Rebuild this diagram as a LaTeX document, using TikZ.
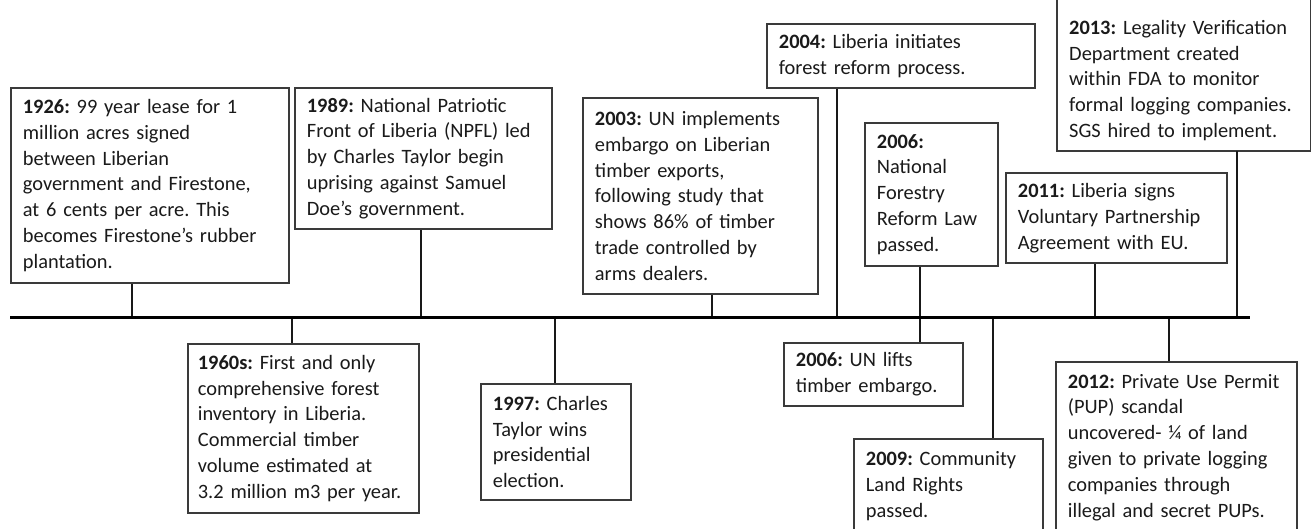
\documentclass[tikz,border=0pt]{standalone}
\usepackage{fontspec}
\setmainfont{Carlito}
\frenchspacing
\definecolor{boxline}{HTML}{3A3A3A}
\definecolor{txt}{HTML}{1A1A1A}
\tikzset{
  evbox/.style={draw=boxline, line width=1.8pt, fill=white, anchor=north west,
    align=left, inner xsep=12pt, inner ysep=0pt, text=txt,
    font=\fontsize{20.4}{25.8}\selectfont},
  evtext/.style={anchor=south west, align=left, inner xsep=12pt, inner ysep=10pt,
    text=txt, font=\fontsize{20.4}{25.8}\selectfont},
  tick/.style={line width=2.4pt, draw=black!90},
  axis/.style={line width=3pt, draw=black}
}
\begin{document}
\begin{tikzpicture}[x=1pt,y=-1pt]
\useasboundingbox (0,0) rectangle (1311,529);
\clip (0,0) rectangle (1311,529);
\fill[white] (0,0) rectangle (1311,529);

% timeline
\coordinate (L) at (10,317);
\coordinate (R) at (1250,317);

% tick positions
\coordinate (t1926) at (132,317);
\coordinate (t1989) at (421,317);
\coordinate (t2003) at (712,317);
\coordinate (t2004) at (837,317);
\coordinate (t2006n) at (920,317);
\coordinate (t2011) at (1095,317);
\coordinate (t2013) at (1237,317);
\coordinate (t1960) at (292,317);
\coordinate (t1997) at (555,317);
\coordinate (t2006u) at (920,317);
\coordinate (t2009) at (993,317);
\coordinate (t2012) at (1169,317);

% boxes above
\node[evbox, minimum width=278pt, text width=254pt, minimum height=195pt] (b1926) at (10,87)
 {\textbf{1926:} 99 year lease for 1\\million acres signed\\between Liberian\\government and Firestone,\\at 6 cents per acre. This\\becomes Firestone’s rubber\\plantation.};
\node[evbox, minimum width=257pt, text width=233pt, minimum height=141pt] (b1989) at (294,87)
 {\textbf{1989:} National Patriotic\\Front of Liberia (NPFL) led\\by Charles Taylor begin\\uprising against Samuel\\Doe’s government.};
\node[evbox, minimum width=235pt, text width=211pt, minimum height=196pt] (b2003) at (582,97)
 {\textbf{2003:} UN implements\\embargo on Liberian\\timber exports,\\following study that\\shows 86\% of timber\\trade controlled by\\arms dealers.};
\node[evbox, minimum width=268pt, text width=244pt, minimum height=64pt] (b2004) at (766,23)
 {\textbf{2004:} Liberia initiates\\forest reform process.};
\node[evbox, minimum width=133pt, text width=109pt, minimum height=143pt] (b2006n) at (864,122)
 {\textbf{2006:}\\National\\Forestry\\Reform Law\\passed.};
\node[evbox, minimum width=221pt, text width=197pt, minimum height=90pt] (b2011) at (1005,172)
 {\textbf{2011:} Liberia signs\\Voluntary Partnership\\Agreement with EU.};
\node[evtext, text width=229pt] (b2013) at (1057,151)
 {\textbf{2013:} Legality Verification\\Department created\\within FDA to monitor\\formal logging companies.\\SGS hired to implement.};
\draw[draw=boxline, line width=1.8pt] ([yshift=30pt]b2013.north west) |- (b2013.south east) -- ([yshift=30pt]b2013.north east);

% boxes below
\node[evbox, minimum width=231pt, inner xsep=10pt, text width=211pt, minimum height=169pt] (b1960) at (187,343)
 {\textbf{1960s:} First and only\\comprehensive forest\\inventory in Liberia.\\Commercial timber\\volume estimated at\\3.2 million m3 per year.};
\node[evbox, minimum width=150pt, text width=126pt, minimum height=116pt] (b1997) at (480,383)
 {\textbf{1997:} Charles\\Taylor wins\\presidential\\election.};
\node[evbox, minimum width=179pt, text width=155pt, minimum height=63pt] (b2006u) at (783,342)
 {\textbf{2006:} UN lifts\\timber embargo.};
\node[evbox, minimum width=189pt, text width=165pt, minimum height=94pt] (b2009) at (853,438)
 {\textbf{2009:} Community\\Land Rights\\passed.};
\node[evbox, minimum width=241pt, text width=217pt, minimum height=171pt] (b2012) at (1055,361)
 {\textbf{2012:} Private Use Permit\\(PUP) scandal\\uncovered- ¼ of land\\given to private logging\\companies through\\illegal and secret PUPs.};

% connectors
\draw[tick] (t1926) -- (t1926 |- b1926.south);
\draw[tick] (t1989) -- (t1989 |- b1989.south);
\draw[tick] (t2003) -- (t2003 |- b2003.south);
\draw[tick] (t2004) -- (t2004 |- b2004.south);
\draw[tick] (t2006n) -- (t2006n |- b2006n.south);
\draw[tick] (t2011) -- (t2011 |- b2011.south);
\draw[tick] (t2013) -- (t2013 |- b2013.south);
\draw[tick] (t1960) -- (t1960 |- b1960.north);
\draw[tick] (t1997) -- (t1997 |- b1997.north);
\draw[tick] (t2006u) -- (t2006u |- b2006u.north);
\draw[tick] (t2009) -- (t2009 |- b2009.north);
\draw[tick] (t2012) -- (t2012 |- b2012.north);

\draw[axis] (L) -- (R);
\end{tikzpicture}
\end{document}
